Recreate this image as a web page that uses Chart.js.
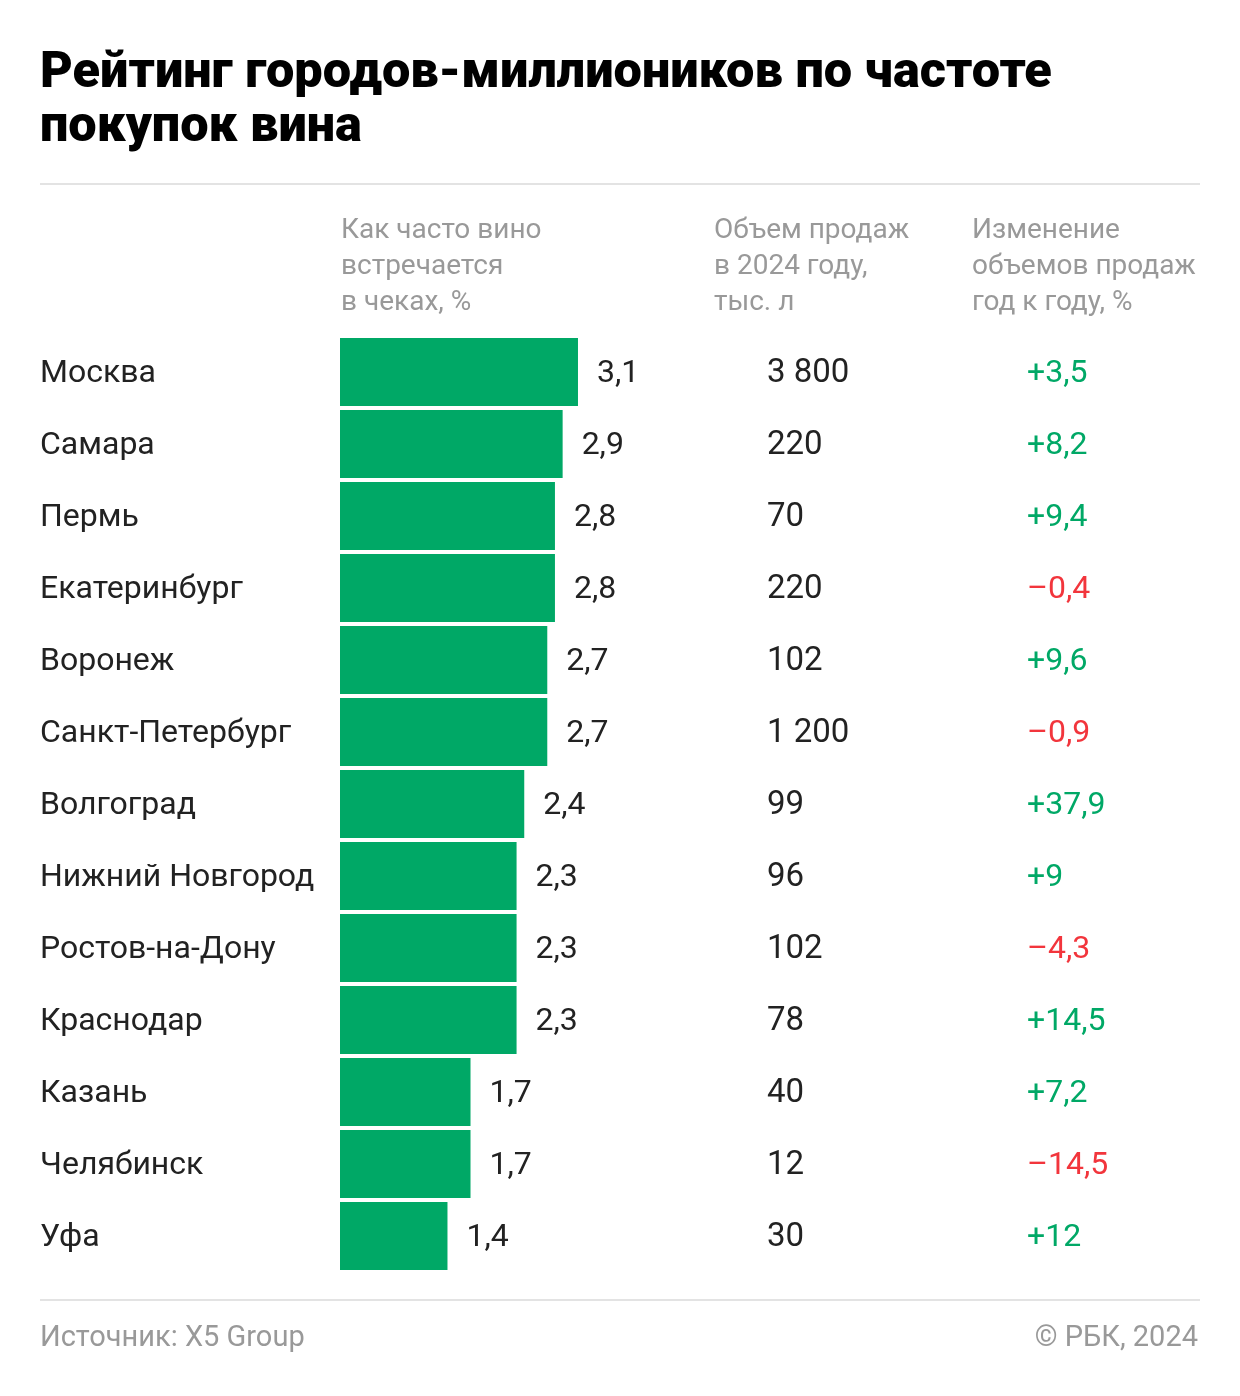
<!DOCTYPE html>
<html>
<head>
<meta charset="utf-8">
<script src="https://cdn.jsdelivr.net/npm/chart.js@4"></script>
<style>
  html, body { margin: 0; padding: 0; background: #fff; }
  #wrap { width: 1240px; height: 1396px; position: relative; }
</style>
</head>
<body>
<div id="wrap"><canvas id="myChart" width="1240" height="1396"></canvas></div>
<script>
var cities = ['Москва', 'Самара', 'Пермь', 'Екатеринбург', 'Воронеж', 'Санкт-Петербург', 'Волгоград',
    'Нижний Новгород', 'Ростов-на-Дону', 'Краснодар', 'Казань', 'Челябинск', 'Уфа'];
var frequency = [3.1, 2.9, 2.8, 2.8, 2.7, 2.7, 2.4, 2.3, 2.3, 2.3, 1.7, 1.7, 1.4];
var volume = [3800, 220, 70, 220, 102, 1200, 99, 96, 102, 78, 40, 12, 30];
var change = [3.5, 8.2, 9.4, -0.4, 9.6, -0.9, 37.9, 9, -4.3, 14.5, 7.2, -14.5, 12];

var titleLines = ['Рейтинг городов-миллиоников по частоте', 'покупок вина'];
var headFreq = ['Как часто вино', 'встречается', 'в чеках, %'];
var headVol = ['Объем продаж', 'в 2024 году,', 'тыс. л'];
var headChg = ['Изменение', 'объемов продаж', 'год к году, %'];

var green = '#00a866';
var red = '#f2353c';

function fmt(v) {
    return String(v).replace('.', ',');
}
function fmtVolume(v) {
    return String(v).replace(/\B(?=(\d{3})+(?!\d))/g, ' ');
}
function fmtChange(v) {
    return (v > 0 ? '+' : '\u2013') + fmt(Math.abs(v));
}

var tablePlugin = {
    id: 'tablePlugin',
    afterDraw: function (chart) {
        var ctx = chart.ctx;
        var xs = chart.scales.x;
        var ys = chart.scales.y;
        ctx.save();

        // title
        ctx.fillStyle = '#000';
        ctx.font = '900 50.5px Roboto';
        ctx.textBaseline = 'alphabetic';
        ctx.textAlign = 'left';
        ctx.fillText(titleLines[0], 40, 87);
        ctx.fillText(titleLines[1], 40, 141);

        // rules
        ctx.fillStyle = '#e3e3e3';
        ctx.fillRect(40, 183, 1160, 2);
        ctx.fillRect(40, 1299, 1160, 2);

        // column headers
        ctx.fillStyle = '#999';
        ctx.font = '28px Roboto';
        ctx.textBaseline = 'middle';
        for (var i = 0; i < 3; i++) {
            var hy = 231 + i * 36;
            ctx.fillText(headFreq[i], 341, hy);
            ctx.fillText(headVol[i], 714, hy);
            ctx.fillText(headChg[i], 972, hy);
        }

        // rows
        for (var r = 0; r < cities.length; r++) {
            var cy = ys.getPixelForValue(r) + 2;
            ctx.fillStyle = '#222';
            ctx.font = '32px Roboto';
            ctx.fillText(cities[r], 40, cy);
            ctx.fillText(fmt(frequency[r]), xs.getPixelForValue(frequency[r]) + 19, cy);
            ctx.font = '33px Roboto';
            ctx.fillText(fmtVolume(volume[r]), 767, cy);
            ctx.font = '32px Roboto';
            ctx.fillStyle = change[r] >= 0 ? green : red;
            ctx.fillText(fmtChange(change[r]), 1027, cy);
        }

        // footer
        ctx.fillStyle = '#999';
        ctx.font = '29px Roboto';
        ctx.fillText('Источник: X5 Group', 40, 1339);
        ctx.textAlign = 'right';
        ctx.fillText('© РБК, 2024', 1198, 1339);
        ctx.restore();
    }
};

var ctx = document.getElementById('myChart').getContext('2d');

var myChart = new Chart(ctx, {
    type: 'bar',
    data: {
        labels: cities,
        datasets: [{
            data: frequency,
            backgroundColor: green,
            borderWidth: 0,
            categoryPercentage: 1,
            barPercentage: 68 / 72
        }]
    },
    options: {
        indexAxis: 'y',
        responsive: false,
        animation: false,
        layout: {
            padding: { left: 340, right: 40, top: 336, bottom: 124 }
        },
        plugins: {
            legend: { display: false },
            tooltip: { enabled: false }
        },
        scales: {
            x: {
                display: false,
                min: 0,
                max: 860 / 76.77
            },
            y: {
                display: false
            }
        }
    },
    plugins: [tablePlugin]
});
</script>
</body>
</html>
